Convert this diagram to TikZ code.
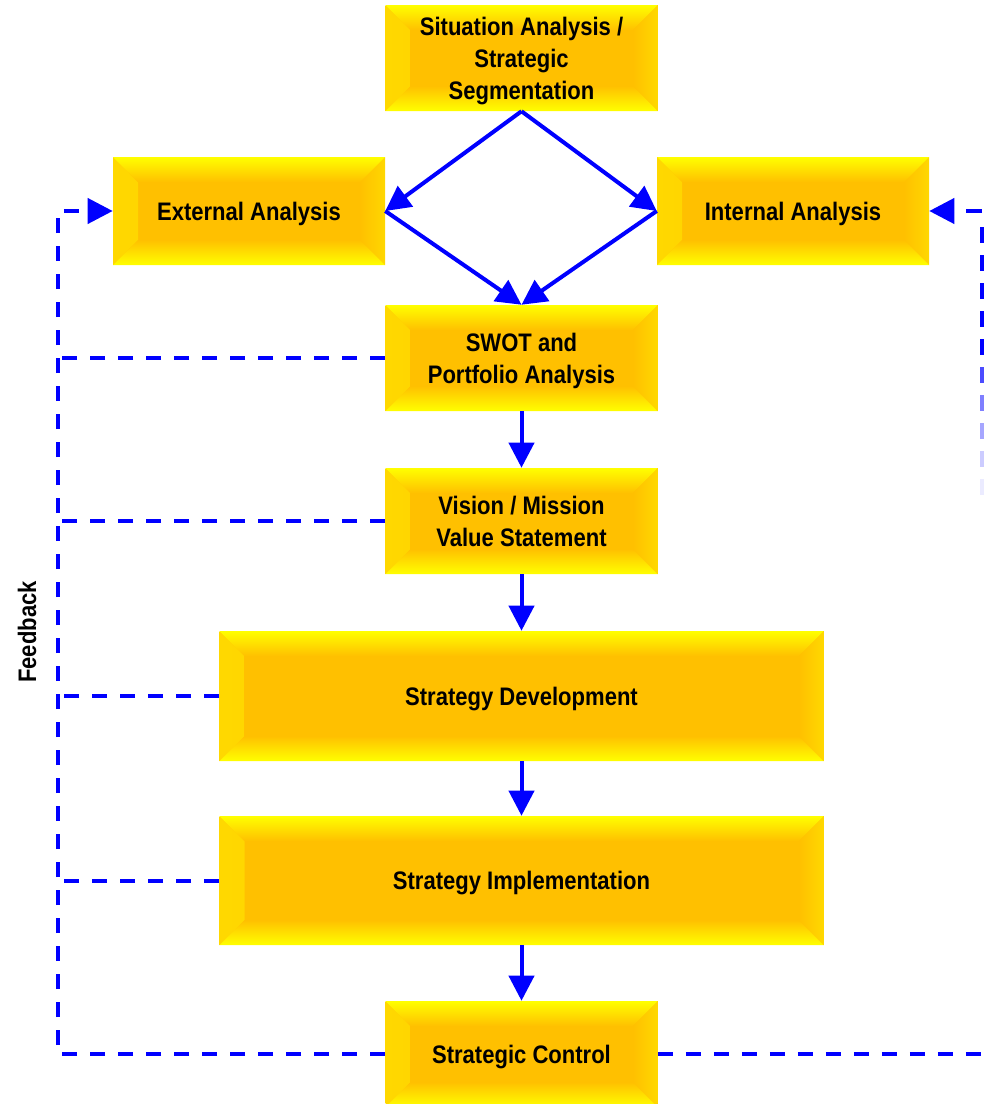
\documentclass[tikz,border=0pt]{standalone}
\usepackage{fontspec}
\setmainfont[FakeStretch=0.87]{Liberation Sans}
\usetikzlibrary{arrows.meta}
\definecolor{bevelin}{HTML}{FFC000}
\definecolor{beveltop}{HTML}{FFFF00}
\definecolor{bevelside}{HTML}{FFD800}
\definecolor{flowblue}{HTML}{0000FF}
\newcommand{\bv}{18.75pt}
\tikzset{
  labelfont/.style={font=\fontsize{19}{24}\selectfont\bfseries},
  bevelbox/.style 2 args={
    minimum width=#1, minimum height=#2, inner sep=0pt, text depth=0pt,
    fill=bevelin, labelfont, align=center, text=black,
    path picture={
      % left and right bevels
      \shade[left color=bevelside, right color=bevelin]
        (path picture bounding box.north west) -- (path picture bounding box.south west)
        -- ([xshift=\bv,yshift=\bv]path picture bounding box.south west)
        -- ([xshift=\bv,yshift=-\bv]path picture bounding box.north west) -- cycle;
      \shade[left color=bevelin, right color=bevelside]
        (path picture bounding box.north east) -- (path picture bounding box.south east)
        -- ([xshift=-\bv,yshift=\bv]path picture bounding box.south east)
        -- ([xshift=-\bv,yshift=-\bv]path picture bounding box.north east) -- cycle;
      % top and bottom bevels
      \shade[top color=beveltop, bottom color=bevelin]
        (path picture bounding box.north west) -- (path picture bounding box.north east)
        -- ([xshift=-\bv,yshift=-\bv]path picture bounding box.north east)
        -- ([xshift=\bv,yshift=-\bv]path picture bounding box.north west) -- cycle;
      \shade[top color=bevelin, bottom color=beveltop]
        (path picture bounding box.south west) -- (path picture bounding box.south east)
        -- ([xshift=-\bv,yshift=\bv]path picture bounding box.south east)
        -- ([xshift=\bv,yshift=\bv]path picture bounding box.south west) -- cycle;
    }},
  tip/.style={-{Triangle[length=18.75pt,width=18.75pt]}},
  flow/.style={draw=flowblue, line width=3pt, tip},
  fbline/.style={draw=flowblue, line width=3pt, dash pattern=on 11.75pt off 9.25pt},
  fbdash/.style={draw=flowblue, line width=3pt},
}
\begin{document}
\begin{tikzpicture}[x=0.75pt, y=-0.75pt]
  \useasboundingbox (0,0) rectangle (983,1104);

  % process boxes
  \node[bevelbox={204pt}{79.5pt}] (sit) at (521.5,58) {Situation Analysis /\\Strategic\\Segmentation};
  \node[bevelbox={204pt}{81pt}] (ext) at (249,211) {External Analysis};
  \node[bevelbox={204pt}{81pt}] (int) at (793,211) {Internal Analysis};
  \node[bevelbox={204pt}{79.5pt}] (swot) at (521.5,358) {SWOT and\\Portfolio Analysis};
  \node[bevelbox={204pt}{79.5pt}] (vis) at (521.5,521) {Vision / Mission\\Value Statement};
  \node[bevelbox={453pt}{97.5pt}] (dev) at (521.5,696) {Strategy Development};
  \node[bevelbox={453pt}{96.75pt}] (impl) at (521.5,880.5) {Strategy Implementation};
  \node[bevelbox={204pt}{79.5pt}] (ctrl) at (521.5,1054) {Strategic Control};

  % main flow
  \draw[flow] (sit.south) -- (ext.east);
  \draw[flow] (sit.south) -- (int.west);
  \draw[flow] (ext.east) -- (swot.north);
  \draw[flow] (int.west) -- (swot.north);
  \draw[flow] (swot.south) -- (vis.north);
  \draw[flow] (vis.south) -- (dev.north);
  \draw[flow] (dev.south) -- (impl.north);
  \draw[flow] (impl.south) -- (ctrl.north);

  % feedback loop, left side
  \coordinate (lb) at (58,1054);
  \coordinate (lt) at (58,211);
  \draw[fbline, tip] (ctrl.west) -- (lb) -- (lt) -- (ext.west);
  \draw[fbline] (swot.west) -- (swot.west -| lt);
  \draw[fbline] (vis.west) -- (vis.west -| lt);
  \draw[fbline] (dev.west) -- (dev.west -| lt);
  \draw[fbline] (impl.west) -- (impl.west -| lt);

  % feedback loop, right side
  \coordinate (rt) at (982,211);
  \draw[fbline] (ctrl.east) -- (ctrl.east -| rt);
  \draw[fbline, tip] (rt) -- (int.east);
  \foreach \k/\o in {0/1,1/1,2/1,3/1,4/1,5/.7,6/.5,7/.35,8/.2,9/.08}
    \draw[fbdash, opacity=\o] (982,{227+28*\k}) -- ++(0,16);

  \node[labelfont, rotate=90] (fblabel) at (27,632) {Feedback};
\end{tikzpicture}
\end{document}
